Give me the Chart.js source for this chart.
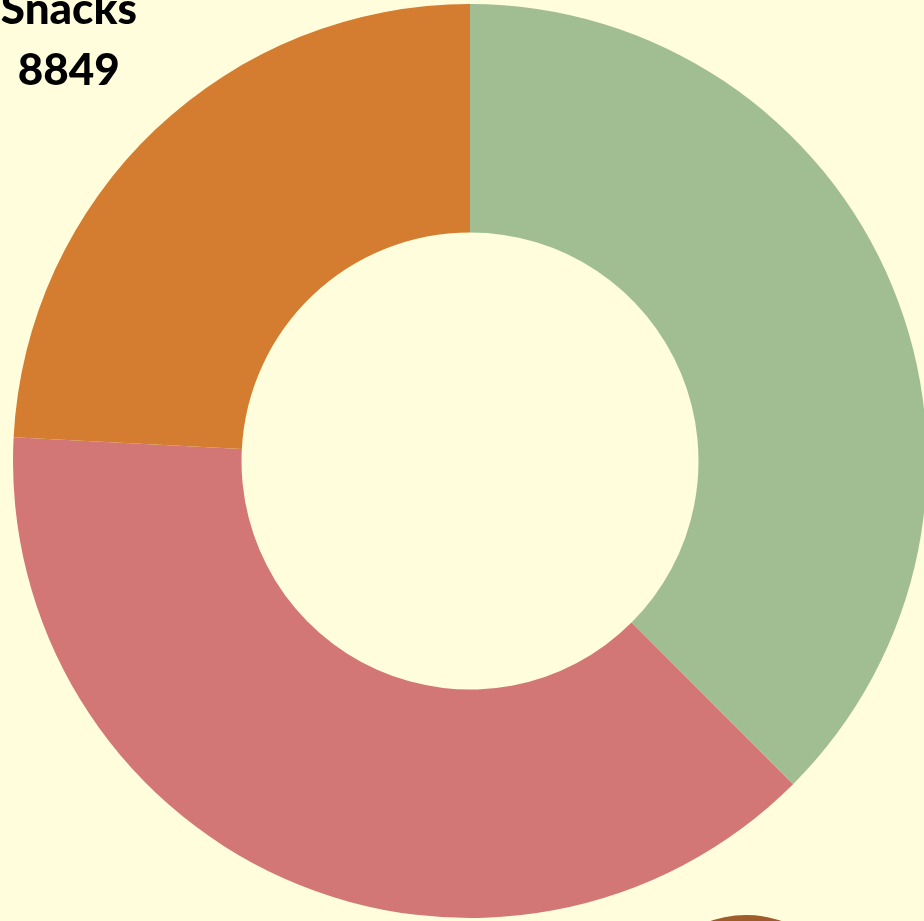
<!DOCTYPE html>
<html>
<head>
<meta charset="utf-8">
<script src="https://cdn.jsdelivr.net/npm/chart.js@4"></script>
<style>
    html, body { margin: 0; padding: 0; width: 924px; height: 921px; overflow: hidden; background: #FFFDDC; }
    #wrap { position: absolute; left: -37px; top: -46px; width: 1014px; height: 1014px; }
    #blob { position: absolute; left: 635px; top: 915px; width: 222px; height: 222px; border-radius: 50%; background: #9E5C2A; }
</style>
</head>
<body>
<div id="blob"></div>
<div id="wrap"><canvas id="ventas"></canvas></div>
<script>
const categorias = ['Meals', 'Drinks', 'Snacks']
const valores = [13730, 14030, 8849]
const colores = ['#A1BE93', '#D37676', '#D47C2F']

// etiquetas fuera del anillo: nombre y valor
const etiquetasFuera = {
    id: 'etiquetasFuera',
    afterDatasetsDraw(chart) {
        const ctx = chart.ctx
        const meta = chart.getDatasetMeta(0)
        ctx.save()
        ctx.fillStyle = '#000'
        ctx.textAlign = 'center'
        ctx.textBaseline = 'alphabetic'
        ctx.font = '900 44px Lato'
        meta.data.forEach((arc, i) => {
            const mid = (arc.startAngle + arc.endAngle) / 2
            const r = arc.outerRadius * 1.275
            const x = arc.x + Math.cos(mid) * r
            const y = arc.y + Math.sin(mid) * r
            ctx.fillText(categorias[i], x, y - 14)
            ctx.fillText(valores[i], x, y + 47)
        })
        ctx.restore()
    }
}

const ventas = document.getElementById('ventas').getContext('2d');

new Chart(ventas, {
    type: 'doughnut',
    data: {
        labels: categorias,
        datasets: [{
            data: valores,
            backgroundColor: colores,
            borderWidth: 0
        }]
    },
    options: {
        responsive: true,
        maintainAspectRatio: false,
        animation: false,
        cutout: '50%',
        layout: { padding: 50 },
        plugins: {
            legend: { display: false },
            tooltip: { enabled: false }
        }
    },
    plugins: [etiquetasFuera]
});
</script>
</body>
</html>
